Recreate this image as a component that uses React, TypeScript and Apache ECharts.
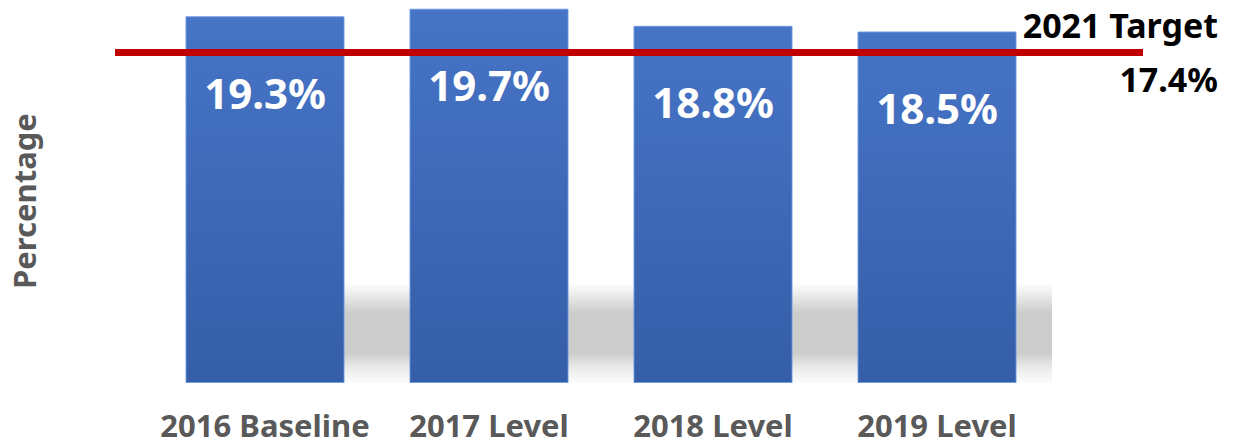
import React, { useEffect, useRef } from "react";
import * as echarts from "echarts";

const categories = ["2016 Baseline", "2017 Level", "2018 Level", "2019 Level"];
const values = [19.3, 19.7, 18.8, 18.5];
const targetValue = 17.4;
const targetLabel = "2021 Target";
const yAxisName = "Percentage";

export default function App() {
  const ref = useRef<HTMLDivElement>(null);

  useEffect(() => {
    if (!ref.current) return;
    const chart = echarts.init(ref.current, null, { renderer: "svg" });
    const font = "'Noto Sans', 'DejaVu Sans', sans-serif";
    chart.setOption({
      animation: false,
      backgroundColor: "#ffffff",
      textStyle: { fontFamily: font },
      grid: { left: 153, right: 186, top: 3, bottom: 63, containLabel: false },
      graphic: [
        {
          type: "rect",
          z: 0,
          silent: true,
          shape: { x: 186, y: 283, width: 866, height: 100 },
          style: {
            fill: new echarts.graphic.LinearGradient(0, 0, 0, 1, [
              { offset: 0, color: "rgba(204,204,204,0)" },
              { offset: 0.3, color: "rgba(204,204,204,1)" },
              { offset: 0.7, color: "rgba(204,204,204,1)" },
              { offset: 1, color: "rgba(240,240,240,0.3)" },
            ]),
          },
        },
      ],
      xAxis: {
        type: "category",
        data: categories,
        axisLine: { show: false },
        axisTick: { show: false },
        axisLabel: {
          interval: 0,
          margin: 26,
          color: "#595959",
          fontWeight: "bold",
          fontSize: 31,
          lineHeight: 31,
          fontFamily: font,
        },
      },
      yAxis: {
        type: "value",
        min: 0,
        max: 20,
        interval: 5,
        name: yAxisName,
        nameLocation: "middle",
        nameRotate: 90,
        nameGap: 114,
        nameTextStyle: {
          color: "#595959",
          fontWeight: "bold",
          fontSize: 31,
          fontFamily: font,
          padding: [0, 16, 0, 0],
        },
        axisLine: { show: false },
        axisTick: { show: false },
        axisLabel: { show: false },
        splitLine: { show: false },
      },
      series: [
        {
          type: "bar",
          z: 2,
          data: values,
          barWidth: 159,
          itemStyle: {
            color: new echarts.graphic.LinearGradient(0, 0, 0, 1, [
              { offset: 0, color: "#4674C6" },
              { offset: 1, color: "#355EA8" },
            ]),
            borderColor: "rgba(110,150,225,0.9)",
            borderWidth: 1,
          },
          label: {
            show: true,
            position: "insideTop",
            distance: 55,
            formatter: (p: any) => p.value.toFixed(1) + "%",
            color: "#ffffff",
            fontWeight: "bold",
            fontSize: 42,
            fontFamily: font,
          },
          markLine: {
            silent: true,
            symbol: ["none", "none"],
            lineStyle: { color: "#C00000", width: 7, type: "solid" },
            label: {
              show: true,
              position: "end",
              distance: 75,
              align: "right",
              verticalAlign: "middle",
              formatter: () => targetLabel + "\n" + targetValue.toFixed(1) + "%",
              color: "#000000",
              fontWeight: "bold",
              fontSize: 34,
              lineHeight: 54,
              padding: [0, 0, 5, 0],
              fontFamily: font,
            },
            data: [
              [
                { x: 115, yAxis: targetValue },
                { x: 1143, yAxis: targetValue },
              ],
            ],
          },
        },
      ],
    });
    return () => chart.dispose();
  }, []);

  return (
    <div
      ref={ref}
      style={{ position: "fixed", left: 0, top: 0, width: 1235, height: 446 }}
    />
  );
}
